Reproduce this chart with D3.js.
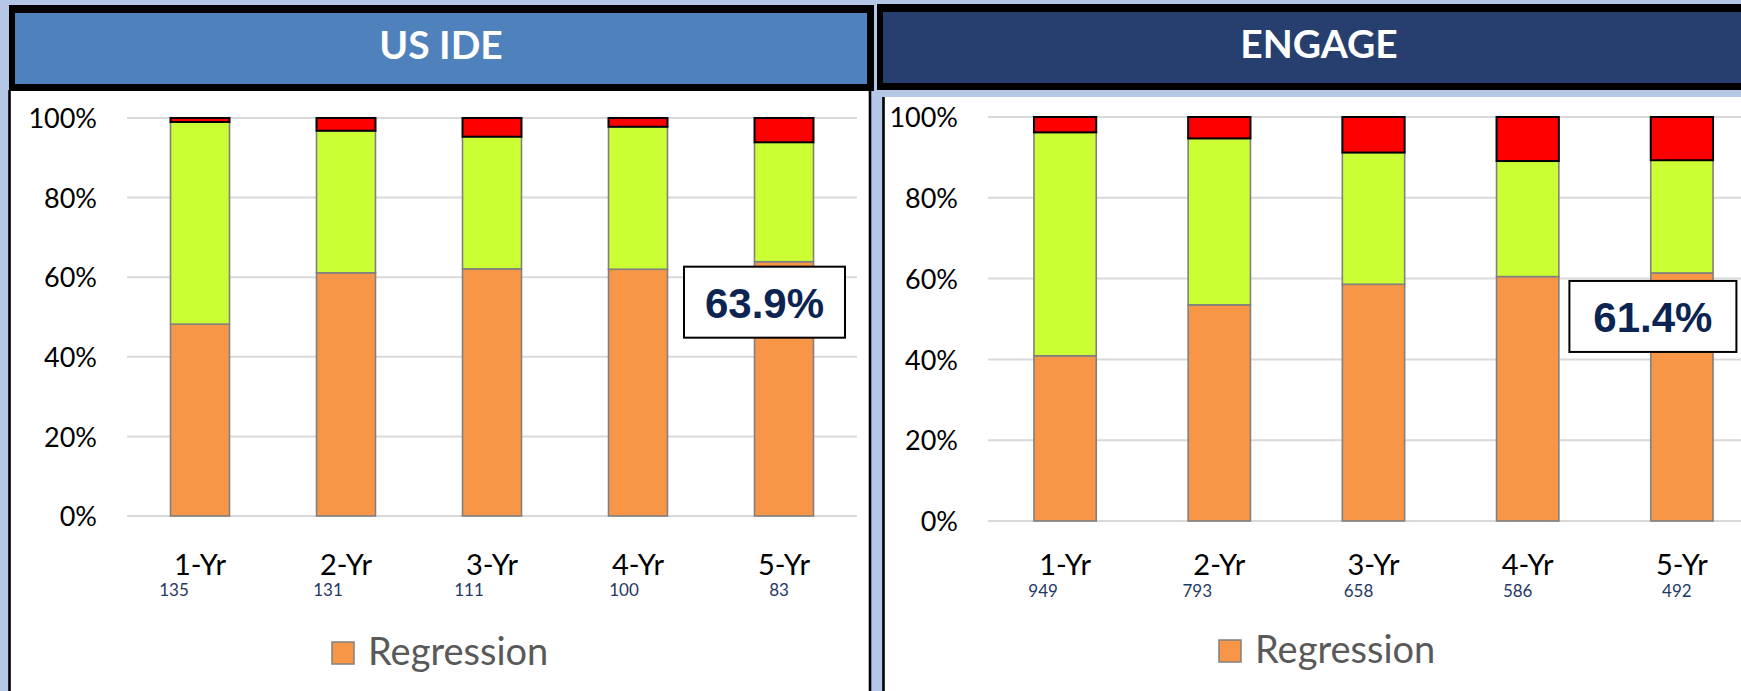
<!DOCTYPE html>
<html>
<head>
<meta charset="utf-8">
<script src="https://cdn.jsdelivr.net/npm/d3@7"></script>
<style>
  html, body { margin: 0; padding: 0; background: #B4C7E7; }
  svg { display: block; }
</style>
</head>
<body>
<svg id="chart" width="1741" height="691"></svg>
<script>
// Follow-up windows and tick values shared by both panels
const categories = ["1-Yr", "2-Yr", "3-Yr", "4-Yr", "5-Yr"];
const yTicks = [0, 20, 40, 60, 80, 100];

// US IDE cohort: share of eyes per outcome (%), and eyes at each visit
const usIdeRegression = [48.2, 61.1, 62.1, 62.0, 63.9];
const usIdeStable     = [50.8, 35.7, 33.2, 35.8, 30.0];
const usIdeProgress   = [1.0, 3.2, 4.7, 2.2, 6.1];
const usIdeCounts     = [135, 131, 111, 100, 83];

// ENGAGE cohort
const engageRegression = [40.9, 53.5, 58.6, 60.5, 61.4];
const engageStable     = [55.3, 41.2, 32.6, 28.6, 27.9];
const engageProgress   = [3.8, 5.3, 8.8, 10.9, 10.7];
const engageCounts     = [949, 793, 658, 586, 492];

const COLORS = { regression: "#F79646", stable: "#CCFF33", progress: "#FF0000" };
const FONT = "Lato, 'Open Sans', 'DejaVu Sans', sans-serif";

const svg = d3.select("#chart");

function drawPanel(opt) {
  const g = svg.append("g");

  // panel background
  g.append("rect")
    .attr("x", opt.panel[0]).attr("y", opt.panel[1])
    .attr("width", opt.panel[2]).attr("height", opt.panel[3])
    .attr("fill", "#FFFFFF");
  opt.borders.forEach(b => {
    g.append("line")
      .attr("x1", b[0]).attr("y1", b[1]).attr("x2", b[2]).attr("y2", b[3])
      .attr("stroke", "#000").attr("stroke-width", 2.6);
  });

  // header band
  g.append("rect")
    .attr("x", opt.header[0]).attr("y", opt.header[1])
    .attr("width", opt.header[2]).attr("height", opt.header[3])
    .attr("fill", "#000");
  g.append("rect")
    .attr("x", opt.header[0] + 6).attr("y", opt.header[1] + 8)
    .attr("width", opt.header[2] - 13).attr("height", opt.header[3] - 15)
    .attr("fill", opt.headerFill);
  g.append("text")
    .attr("x", opt.titleX).attr("y", opt.titleBase)
    .attr("text-anchor", "middle")
    .attr("font-family", FONT).attr("font-weight", 700).attr("font-size", 39)
    .attr("fill", "#FFFFFF")
    .text(opt.title);

  const x = d3.scaleBand()
    .domain(categories)
    .range(opt.xRange)
    .paddingInner(0.596)
    .paddingOuter(0.298);
  const y = d3.scaleLinear().domain([0, 100]).range(opt.yRange);

  // gridlines
  const yAxis = d3.axisLeft(y).tickValues(yTicks).tickSize(0).tickFormat(d => d + "%");
  g.append("g")
    .selectAll("line").data(yTicks).join("line")
    .attr("x1", opt.xRange[0]).attr("x2", opt.gridEnd)
    .attr("y1", d => y(d)).attr("y2", d => y(d))
    .attr("stroke", "#D9D9D9").attr("stroke-width", 2);

  const ya = g.append("g")
    .attr("transform", `translate(${opt.tickX},0)`)
    .call(yAxis);
  ya.select(".domain").remove();
  ya.selectAll("text")
    .attr("font-family", FONT).attr("font-size", 27).attr("fill", "#000")
    .attr("x", 0).attr("dy", "0.36em");

  // stacked bars
  const rows = categories.map((c, i) => ({
    cat: c,
    regression: opt.regression[i],
    stable: opt.stable[i],
    progress: opt.progress[i]
  }));
  const keys = ["regression", "stable", "progress"];
  const series = d3.stack().keys(keys)(rows);

  series.forEach(s => {
    const isTop = s.key === "progress";
    g.append("g").selectAll("rect").data(s).join("rect")
      .attr("x", d => x(d.data.cat))
      .attr("width", x.bandwidth())
      .attr("y", d => y(d[1]))
      .attr("height", d => y(d[0]) - y(d[1]))
      .attr("fill", COLORS[s.key])
      .attr("stroke", isTop ? "#000" : "#808080")
      .attr("stroke-width", isTop ? 2 : 1.6);
  });

  // category labels with sample sizes beneath
  const xa = g.append("g");
  xa.selectAll("text.cat").data(categories).join("text")
    .attr("class", "cat")
    .attr("x", d => x(d) + x.bandwidth() / 2)
    .attr("y", 575)
    .attr("text-anchor", "middle")
    .attr("font-family", FONT).attr("font-size", 29).attr("fill", "#000")
    .text(d => d);
  xa.selectAll("text.n").data(opt.counts).join("text")
    .attr("class", "n")
    .attr("x", (d, i) => x(categories[i]) + x.bandwidth() / 2 + opt.countShift[i])
    .attr("y", opt.countY)
    .attr("text-anchor", "middle")
    .attr("font-family", FONT).attr("font-size", 17).attr("fill", "#1F3864")
    .text(d => d);

  // callout on the final bar
  const last = categories.length - 1;
  const v = opt.regression[last];
  const cx = x(categories[last]) + x.bandwidth() / 2 + opt.calloutDx;
  const cy = y(v) + opt.calloutDy;
  g.append("rect")
    .attr("x", cx - opt.calloutW / 2).attr("y", cy)
    .attr("width", opt.calloutW).attr("height", 71)
    .attr("fill", "#FFFFFF").attr("stroke", "#000").attr("stroke-width", 2);
  g.append("text")
    .attr("x", cx).attr("y", cy + 51)
    .attr("text-anchor", "middle")
    .attr("font-family", "'Liberation Sans', Arial, sans-serif")
    .attr("font-weight", 700).attr("font-size", 42).attr("fill", "#0B2452")
    .text(v.toFixed(1) + "%");

  // legend
  g.append("rect")
    .attr("x", opt.legendX).attr("y", opt.legendY - 23)
    .attr("width", 22).attr("height", 22)
    .attr("fill", COLORS.regression).attr("stroke", "#808080").attr("stroke-width", 1.5);
  g.append("text")
    .attr("x", opt.legendX + 36).attr("y", opt.legendY)
    .attr("font-family", FONT).attr("font-size", 38).attr("fill", "#595959")
    .text("Regression");
}

drawPanel({
  title: "US IDE",
  headerFill: "#4F81BD",
  header: [9, 5, 865, 86],
  titleX: 441,
  titleBase: 59,
  panel: [9, 91, 862, 600],
  borders: [[9.5, 90, 9.5, 691], [870, 90, 870, 691]],
  xRange: [127, 857],
  gridEnd: 857,
  yRange: [516, 118],
  tickX: 97,
  regression: usIdeRegression,
  stable: usIdeStable,
  progress: usIdeProgress,
  counts: usIdeCounts,
  countShift: [-26, -18, -23, -14, -5],
  countY: 596,
  calloutDx: -19.5,
  calloutDy: 5,
  calloutW: 161,
  legendX: 332,
  legendY: 665
});

drawPanel({
  title: "ENGAGE",
  headerFill: "#273F6E",
  header: [877, 4, 880, 86],
  titleX: 1319,
  titleBase: 57.5,
  panel: [883, 97, 870, 600],
  borders: [[883.5, 97, 883.5, 691]],
  xRange: [988, 1759],
  gridEnd: 1741,
  yRange: [521, 117],
  tickX: 958,
  regression: engageRegression,
  stable: engageStable,
  progress: engageProgress,
  counts: engageCounts,
  countShift: [-22, -22, -15, -10, -5],
  countY: 597,
  calloutDx: -29,
  calloutDy: 8,
  calloutW: 167,
  legendX: 1219,
  legendY: 663
});
</script>
</body>
</html>
